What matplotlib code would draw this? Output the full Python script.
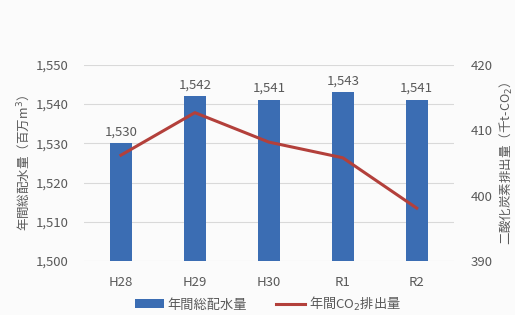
import matplotlib.pyplot as plt
import matplotlib

matplotlib.rcParams['font.family'] = ['Noto Sans CJK JP', 'DejaVu Sans']

years = ['H28', 'H29', 'H30', 'R1', 'R2']
water = [1530, 1542, 1541, 1543, 1541]
co2 = [406.2, 412.7, 408.2, 405.8, 398.1]

txt = '#595959'
bar_c = '#3b6db3'
line_c = '#b3403b'

fig = plt.figure(figsize=(5.15, 3.15), dpi=100)
fig.patch.set_facecolor('#fbfbfb')
ax = fig.add_axes([0.163, 0.171, 0.718, 0.623])
ax.set_facecolor('#fbfbfb')

x = range(len(years))
b = ax.bar(x, water, width=0.3, color=bar_c, zorder=2, label='年間総配水量')
for i, v in enumerate(water):
    ax.text(i, v + 1.3, f'{v:,}', ha='center', va='bottom', fontsize=9.5, color=txt)

ax.set_ylim(1500, 1550)
ax.set_yticks(range(1500, 1551, 10))
ax.set_yticklabels([f'{v:,}' for v in range(1500, 1551, 10)])
ax.set_xlim(-0.5, 4.5)
ax.set_xticks(list(x))
ax.set_xticklabels(years)
ax.grid(axis='y', color='#d9d9d9', lw=0.8, zorder=0)
for s in ax.spines.values():
    s.set_visible(False)
ax.tick_params(length=0, labelsize=9.5, colors=txt, pad=11)
ax.tick_params(axis='y', pad=11)
ax.set_ylabel('年間総配水量（百万m$^3$）', fontsize=9, color=txt, labelpad=2)

ax2 = ax.twinx()
ax2.plot(list(x), co2, color=line_c, lw=2.2, zorder=3, label='年間CO$_2$排出量')
ax2.set_ylim(390, 420)
ax2.set_yticks(range(390, 421, 10))
for s in ax2.spines.values():
    s.set_visible(False)
ax2.tick_params(length=0, labelsize=9.5, colors=txt, pad=12)
ax2.set_ylabel('二酸化炭素排出量（千t-CO$_2$）', fontsize=9, color=txt, rotation=90, labelpad=4)

h1, l1 = ax.get_legend_handles_labels()
h2, l2 = ax2.get_legend_handles_labels()
fig.legend(h1 + h2, l1 + l2, loc='lower center', bbox_to_anchor=(0.52, -0.03), ncol=2,
           frameon=False, fontsize=9.5, labelcolor=txt, handlelength=2.2, columnspacing=2.2,
           handletextpad=0.3)

fig.savefig('out.png', dpi=100, facecolor=fig.get_facecolor())
